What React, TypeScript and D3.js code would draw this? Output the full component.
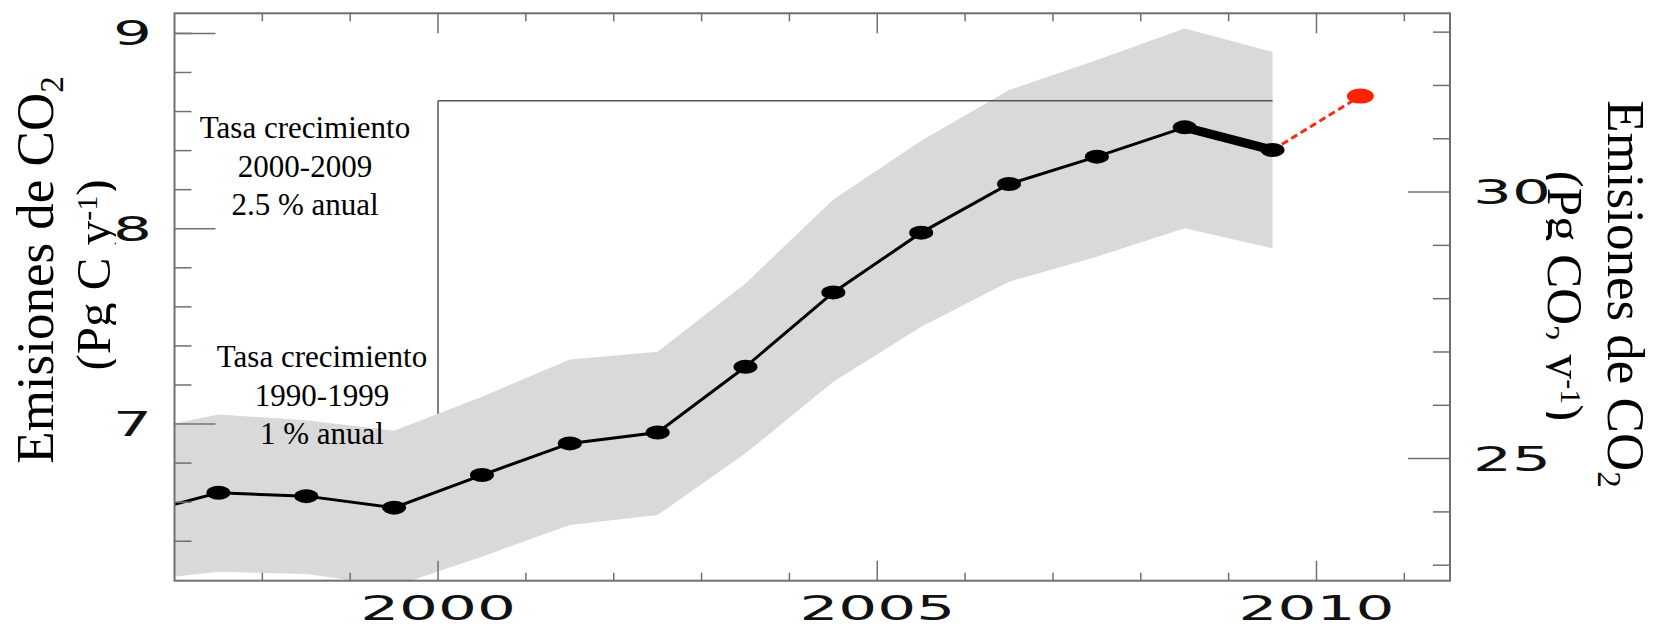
import React, { useEffect, useRef } from 'react';
import * as d3 from 'd3';

// Global CO2 emissions (Pg C / yr), each year plotted at mid-year
const years = [1996, 1997, 1998, 1999, 2000, 2001, 2002, 2003, 2004, 2005, 2006, 2007, 2008, 2009];
const emissions = [6.53, 6.648, 6.631, 6.572, 6.739, 6.901, 6.957, 7.293, 7.674, 7.98, 8.229, 8.369, 8.519, 8.403];
const upperBound = [6.957, 7.049, 7.02, 6.966, 7.14, 7.33, 7.37, 7.72, 8.15, 8.45, 8.71, 8.864, 9.025, 8.906];
const lowerBound = [6.192, 6.244, 6.232, 6.17, 6.321, 6.483, 6.534, 6.85, 7.217, 7.498, 7.728, 7.857, 8.002, 7.9];

// 2010 projection (red)
const projectionYear = 2010;
const projection = 8.679;

// bracket for the growth-rate annotation
const bracketFrom = 2000;
const bracketTo = 2009.5;
const bracketLevel = 8.655;

// ticks
const xMajor = [2000, 2005, 2010];
const xMinor = [1998, 1999, 2001, 2002, 2003, 2004, 2006, 2007, 2008, 2009, 2011];
const leftMajor = [7, 8, 9];
const leftMinor = [6.4, 6.6, 6.8, 7.2, 7.4, 7.6, 7.8, 8.2, 8.4, 8.6, 8.8, 9.0];
const rightMajor = [25, 30];
const rightMinor = [23, 24, 26, 27, 28, 29, 31, 32, 33];

const CO2_PER_C = 3.664;
const W = 1653, H = 629;

export default function App() {
  const ref = useRef<SVGSVGElement>(null);

  useEffect(() => {
    document.body.style.margin = '0';
    const svg = d3.select(ref.current);
    svg.selectAll('*').remove();

    const left = 174.5, right = 1450, top = 13.3, bottom = 580.7;
    const yDomain = [6.198, 9.103];
    const x = d3.scaleLinear().domain([1997, 2011.52]).range([left, right]);
    const y = d3.scaleLinear().domain(yDomain).range([bottom, top]);
    const yR = d3.scaleLinear().domain(yDomain.map(d => d * CO2_PER_C)).range([bottom, top]);
    const mid = (yr: number) => x(yr + 0.5);

    const rows = years.map((yr, i) => ({ yr, v: emissions[i], hi: upperBound[i], lo: lowerBound[i] }));

    svg.append('rect').attr('width', W).attr('height', H).attr('fill', '#fff');

    const defs = svg.append('defs');
    defs.append('clipPath').attr('id', 'plotclip').append('rect')
      .attr('x', left).attr('y', top).attr('width', right - left).attr('height', bottom - top);
    defs.append('clipPath').attr('id', 'clipL').append('rect')
      .attr('x', 0).attr('y', 0).attr('width', 116).attr('height', H);
    defs.append('clipPath').attr('id', 'clipR').append('rect')
      .attr('x', 1546).attr('y', 0).attr('width', W - 1546).attr('height', H);

    const plot = svg.append('g').attr('clip-path', 'url(#plotclip)');

    // value of the series at any time (piecewise linear)
    const lineAt = d3.scaleLinear().domain(years.map(d => d + 0.5)).range(emissions);

    // vertical part of bracket (goes under the band)
    plot.append('line')
      .attr('x1', x(bracketFrom)).attr('x2', x(bracketFrom))
      .attr('y1', y(bracketLevel)).attr('y2', y(lineAt(bracketFrom)))
      .attr('stroke', '#555').attr('stroke-width', 1.5);

    // uncertainty band
    const area = d3.area<any>()
      .x(d => mid(d.yr))
      .y0(d => y(d.lo))
      .y1(d => y(d.hi));
    plot.append('path').datum(rows).attr('d', area).attr('fill', '#d9d9d9');

    // horizontal part of bracket
    plot.append('line')
      .attr('x1', x(bracketFrom)).attr('x2', x(bracketTo))
      .attr('y1', y(bracketLevel)).attr('y2', y(bracketLevel))
      .attr('stroke', '#555').attr('stroke-width', 1.5);

    const line = d3.line<any>().x(d => mid(d.yr)).y(d => y(d.v));
    plot.append('path').datum(rows.slice(0, rows.length - 1)).attr('d', line)
      .attr('fill', 'none').attr('stroke', '#000').attr('stroke-width', 3);
    plot.append('path').datum(rows.slice(rows.length - 2)).attr('d', line)
      .attr('fill', 'none').attr('stroke', '#000').attr('stroke-width', 9)
      .attr('stroke-linecap', 'round');

    // projection
    const last = rows[rows.length - 1];
    plot.append('line')
      .attr('x1', mid(last.yr)).attr('y1', y(last.v))
      .attr('x2', mid(projectionYear)).attr('y2', y(projection))
      .attr('stroke', '#ff2a12').attr('stroke-width', 3).attr('stroke-dasharray', '7,4');

    plot.selectAll('ellipse.pt').data(rows).enter().append('ellipse')
      .attr('class', 'pt')
      .attr('cx', d => mid(d.yr)).attr('cy', d => y(d.v))
      .attr('rx', 12).attr('ry', 7).attr('fill', '#000');

    plot.append('ellipse')
      .attr('cx', mid(projectionYear)).attr('cy', y(projection))
      .attr('rx', 13.5).attr('ry', 7.5).attr('fill', '#ff2200');

    // frame
    svg.append('rect')
      .attr('x', left).attr('y', top).attr('width', right - left).attr('height', bottom - top)
      .attr('fill', 'none').attr('stroke', '#707070').attr('stroke-width', 2);

    const ticks = svg.append('g').attr('stroke', '#707070').attr('stroke-width', 1.5);
    const tick = (x1: number, y1: number, x2: number, y2: number) =>
      ticks.append('line').attr('x1', x1).attr('y1', y1).attr('x2', x2).attr('y2', y2);

    xMinor.forEach(t => { tick(x(t), top, x(t), top + 8); tick(x(t), bottom, x(t), bottom - 8); });
    xMajor.forEach(t => { tick(x(t), top, x(t), top + 20); tick(x(t), bottom, x(t), bottom - 20); });
    leftMinor.forEach(v => tick(left, y(v), left + 17, y(v)));
    leftMajor.forEach(v => tick(left, y(v), left + 41, y(v)));
    rightMinor.forEach(v => tick(right, yR(v), right - 17, yR(v)));
    rightMajor.forEach(v => tick(right, yR(v), right - 42, yR(v)));

    // tick labels (wide sans)
    const tickFont = 'DejaVu Sans, Verdana, sans-serif';
    const stretch = 1.8;
    xMajor.forEach(t => {
      svg.append('text')
        .attr('transform', `translate(${x(t)},620) scale(${stretch},1)`)
        .attr('text-anchor', 'middle')
        .style('font-family', tickFont).style('font-size', '34px').attr('fill', '#111')
        .text(t);
    });
    leftMajor.forEach(v => {
      svg.append('text')
        .attr('transform', `translate(152,${y(v) + 12}) scale(${stretch},1)`)
        .attr('text-anchor', 'end')
        .style('font-family', tickFont).style('font-size', '34px').attr('fill', '#111')
        .text(v);
    });
    rightMajor.forEach(v => {
      svg.append('text')
        .attr('transform', `translate(1473,${yR(v) + 12}) scale(${stretch},1)`)
        .attr('text-anchor', 'start')
        .style('font-family', tickFont).style('font-size', '34px').attr('fill', '#111')
        .text(v);
    });

    const serif = 'Liberation Serif, Times New Roman, serif';

    // annotations
    const note = (cx: number, base: number, lines: string[]) => {
      lines.forEach((s, i) => {
        svg.append('text')
          .attr('x', cx).attr('y', base + i * 38.5)
          .attr('text-anchor', 'middle')
          .style('font-family', serif).style('font-size', '31px').attr('fill', '#000')
          .text(s);
      });
    };
    note(305, 138, ['Tasa crecimiento', '2000-2009', '2.5 % anual']);
    note(322, 367, ['Tasa crecimiento', '1990-1999', '1 % anual']);

    // left axis titles
    const l1 = svg.append('text')
      .attr('transform', 'translate(53,270) rotate(-90)')
      .attr('text-anchor', 'middle')
      .style('font-family', serif).style('font-size', '53px').attr('fill', '#000');
    l1.append('tspan').text('Emisiones de CO');
    l1.append('tspan').attr('dy', 10).style('font-size', '33px').text('2');

    const l2g = svg.append('g').attr('clip-path', 'url(#clipL)');
    const l2 = l2g.append('text')
      .attr('transform', 'translate(110,275) rotate(-90)')
      .attr('text-anchor', 'middle')
      .style('font-family', serif).style('font-size', '49px').attr('fill', '#000');
    l2.append('tspan').text('(Pg C y');
    l2.append('tspan').attr('dy', -13).style('font-size', '30px').text('-1');
    l2.append('tspan').attr('dy', 13).text(')');

    // right axis titles
    const r1 = svg.append('text')
      .attr('transform', 'translate(1608,294) rotate(90)')
      .attr('text-anchor', 'middle')
      .style('font-family', serif).style('font-size', '53px').attr('fill', '#000');
    r1.append('tspan').text('Emisiones de CO');
    r1.append('tspan').attr('dy', 10).style('font-size', '33px').text('2');

    const r2g = svg.append('g').attr('clip-path', 'url(#clipR)');
    const r2 = r2g.append('text')
      .attr('transform', 'translate(1548,296) rotate(90)')
      .attr('text-anchor', 'middle')
      .style('font-family', serif).style('font-size', '51px').attr('fill', '#000');
    r2.append('tspan').text('(Pg CO');
    r2.append('tspan').attr('dy', 10).style('font-size', '32px').text('2');
    r2.append('tspan').attr('dy', -10).text(' y');
    r2.append('tspan').attr('dy', -13).style('font-size', '30px').text('-1');
    r2.append('tspan').attr('dy', 13).text(')');
  }, []);

  return <svg ref={ref} width={W} height={H} style={{ display: 'block' }} />;
}
